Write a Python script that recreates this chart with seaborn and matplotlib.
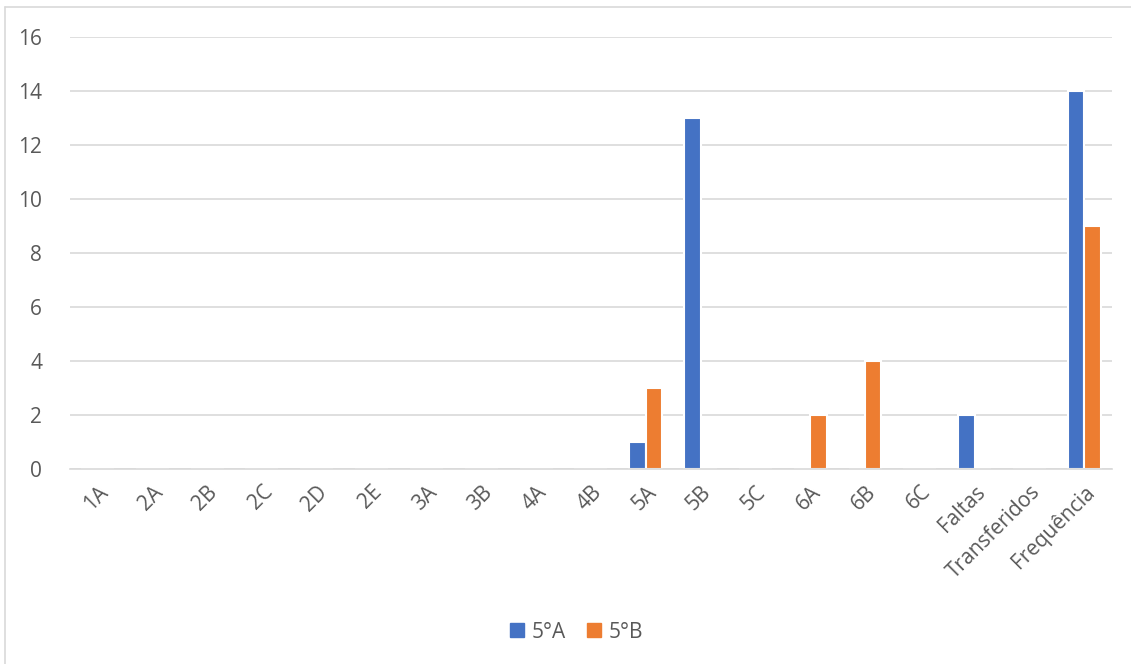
import matplotlib
matplotlib.use("Agg")
import matplotlib.pyplot as plt
import seaborn as sns
import pandas as pd
from matplotlib.lines import Line2D

categories = ["1A", "2A", "2B", "2C", "2D", "2E", "3A", "3B", "4A", "4B",
              "5A", "5B", "5C", "6A", "6B", "6C", "Faltas", "Transferidos", "Frequência"]
serie_5A = [0, 0, 0, 0, 0, 0, 0, 0, 0, 0, 1, 13, 0, 0, 0, 0, 2, 0, 14]
serie_5B = [0, 0, 0, 0, 0, 0, 0, 0, 0, 0, 3, 0, 0, 2, 4, 0, 0, 0, 9]
series_names = ["5°A", "5°B"]
colors = ["#4472C4", "#ED7D31"]
yticks = [0, 2, 4, 6, 8, 10, 12, 14, 16]

df = pd.DataFrame({
    "cat": categories * 2,
    "val": serie_5A + serie_5B,
    "serie": [series_names[0]] * len(categories) + [series_names[1]] * len(categories),
})

sns.set_style("white")
plt.rcParams["font.family"] = ["Open Sans", "DejaVu Sans"]

fig = plt.figure(figsize=(11.31, 6.64), dpi=100)
ax = fig.add_axes([0.0619, 0.2937, 0.9211, 0.6507])

sns.barplot(data=df, x="cat", y="val", hue="serie", order=categories,
            hue_order=series_names, palette=colors, width=0.6, saturation=1,
            edgecolor="white", linewidth=1.5, ax=ax, legend=False)

ax.set_ylim(0, 16)
ax.set_yticks(yticks)
ax.set_xlim(-0.5, len(categories) - 0.5)
ax.yaxis.grid(True, color="#D9D9D9", linewidth=1.2)
ax.set_axisbelow(True)
for s in ["top", "right", "left"]:
    ax.spines[s].set_visible(False)
ax.spines["bottom"].set_color("#D9D9D9")
ax.spines["bottom"].set_linewidth(1.2)
ax.set_xlabel("")
ax.set_ylabel("")
ax.tick_params(axis="both", length=0, colors="#595959", labelsize=15)
ax.tick_params(axis="y", pad=20)
ax.tick_params(axis="x", pad=9)
for lbl in ax.get_xticklabels():
    lbl.set_rotation(45)
    lbl.set_ha("right")
    lbl.set_rotation_mode("anchor")

handles = [plt.Rectangle((0, 0), 1, 1, color=c) for c in colors]
fig.legend(handles, series_names, loc="center", bbox_to_anchor=(0.51, 0.048),
           ncol=2, frameon=False, fontsize=15, handlelength=0.65, handleheight=0.65,
           columnspacing=1.0, handletextpad=0.4, labelcolor="#595959")

fig.add_artist(Line2D([0.0045, 0.0045], [0.0, 0.99], transform=fig.transFigure,
                      color="#D9D9D9", linewidth=1.2))
fig.add_artist(Line2D([0.0045, 1.0], [0.99, 0.99], transform=fig.transFigure,
                      color="#D9D9D9", linewidth=1.2))

fig.savefig("out.png", dpi=100, facecolor="white")
